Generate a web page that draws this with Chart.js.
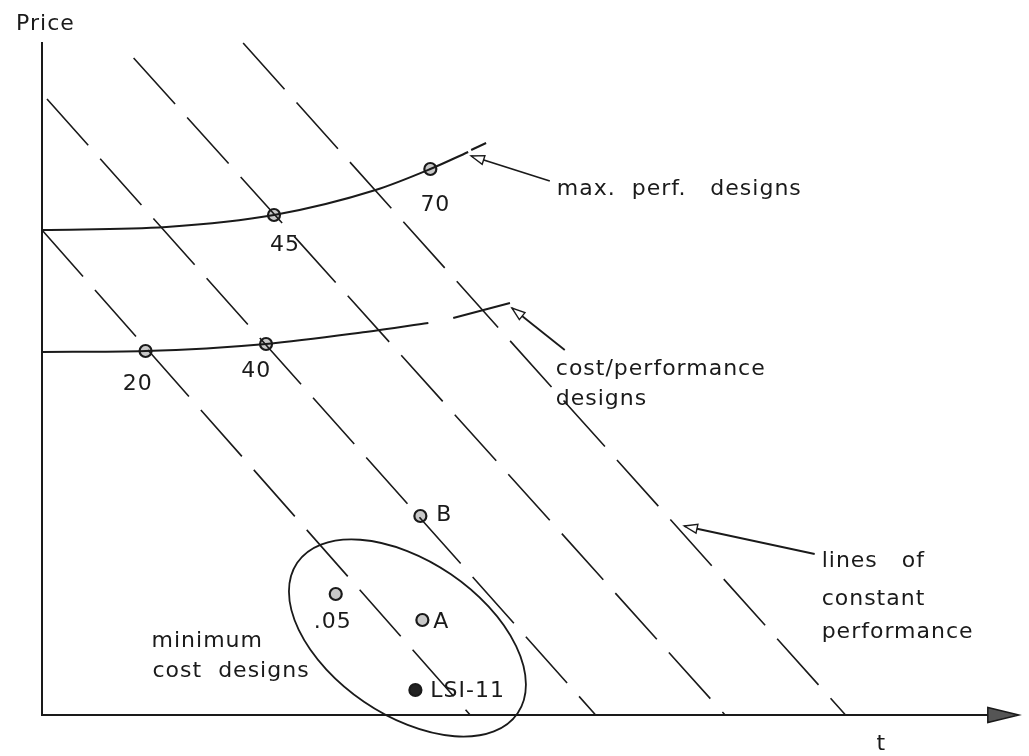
<!DOCTYPE html>
<html>
<head>
<meta charset="utf-8">
<script src="https://cdn.jsdelivr.net/npm/chart.js@4.4.1/dist/chart.umd.min.js"></script>
<style>
    html, body { margin: 0; padding: 0; background: #fff; }
    canvas { display: block; }
</style>
</head>
<body>
<canvas id="chart" width="1029" height="756"></canvas>
<script>
// lines of constant performance (t, price)
const constPerfA = [{ x: 0, y: 48.5 }, { x: 43.0, y: 0 }];
const constPerfB = [{ x: 0.5, y: 61.6 }, { x: 55.6, y: 0 }];
const constPerfC = [{ x: 9.2, y: 65.7 }, { x: 68.6, y: 0 }];
const constPerfD = [{ x: 20.2, y: 67.2 }, { x: 80.7, y: 0 }];

// max. perf. designs curve
const maxPerfCurve = [
    { x: 0, y: 48.5 }, { x: 12.5, y: 48.8 }, { x: 23.3, y: 50.0 },
    { x: 33.5, y: 52.5 }, { x: 39.0, y: 54.6 }, { x: 42.8, y: 56.3 },
];
const maxPerfTail = [{ x: 43.1, y: 56.5 }, { x: 44.6, y: 57.2 }];

// cost/performance designs curve
const costPerfCurve = [
    { x: 0, y: 36.3 }, { x: 10.4, y: 36.4 }, { x: 22.5, y: 37.1 },
    { x: 32.5, y: 38.3 }, { x: 38.8, y: 39.2 },
];
const costPerfTail = [{ x: 41.3, y: 39.7 }, { x: 47.0, y: 41.2 }];

// design points
const designNames = ['45', '70', '20', '40', 'B', '.05', 'A', 'LSI-11'];
const designT = [23.3, 39.0, 10.4, 22.5, 38.0, 29.5, 38.2, 37.5];
const designPrice = [50.0, 54.6, 36.4, 37.1, 19.9, 12.1, 9.5, 2.5];

// minimum cost designs region
const minCostCenter = { x: 36.7, y: 7.7 };
const minCostRadii = { a: 13.4, b: 7.75 };
const minCostTilt = 34.3;

const axisTMax = 98.1;
const axisPriceMax = 67.3;

// label text, anchored at left baseline in data units
const labels = [
    { text: 'Price', x: -2.6, y: 68.5 },
    { text: '70', x: 38.0, y: 50.4 },
    { text: '45', x: 22.9, y: 46.4 },
    { text: '20', x: 8.1, y: 32.5 },
    { text: '40', x: 20.0, y: 33.8 },
    { text: 'B', x: 39.6, y: 19.4 },
    { text: '.05', x: 27.3, y: 8.7 },
    { text: 'A', x: 39.3, y: 8.7 },
    { text: 'LSI-11', x: 39.0, y: 1.8 },
    { text: 'max.  perf.   designs', x: 51.7, y: 52.0 },
    { text: 'cost/performance', x: 51.6, y: 34.0 },
    { text: 'designs', x: 51.6, y: 31.0 },
    { text: 'lines   of', x: 78.3, y: 14.8 },
    { text: 'constant', x: 78.3, y: 11.0 },
    { text: 'performance', x: 78.3, y: 7.7 },
    { text: 'minimum', x: 11.0, y: 6.8 },
    { text: 'cost  designs', x: 11.1, y: 3.8 },
    { text: 't', x: 83.8, y: -3.5 },
];

// pointer arrows: tail -> tip
const arrows = [
    { from: { x: 51.0, y: 53.4 }, to: { x: 43.1, y: 55.9 } },
    { from: { x: 52.5, y: 36.5 }, to: { x: 47.2, y: 40.7 } },
    { from: { x: 77.6, y: 16.1 }, to: { x: 64.5, y: 18.9 } },
];

const ink = '#1a1a1a';
const dashPattern = [62, 18];

function dashedSeries(points) {
    return {
        data: points,
        showLine: true,
        borderColor: ink,
        borderWidth: 1.6,
        borderDash: dashPattern,
        pointRadius: 0,
        clip: false,
    };
}

function curveSeries(points) {
    return {
        data: points,
        showLine: true,
        borderColor: ink,
        borderWidth: 2,
        tension: 0.4,
        cubicInterpolationMode: 'monotone',
        pointRadius: 0,
        clip: false,
    };
}

function drawArrowHead(ctx, x1, y1, x2, y2, len, half, fill) {
    const ang = Math.atan2(y2 - y1, x2 - x1);
    const bx = x2 - len * Math.cos(ang);
    const by = y2 - len * Math.sin(ang);
    ctx.beginPath();
    ctx.moveTo(x2, y2);
    ctx.lineTo(bx + half * Math.sin(ang), by - half * Math.cos(ang));
    ctx.lineTo(bx - half * Math.sin(ang), by + half * Math.cos(ang));
    ctx.closePath();
    ctx.fillStyle = fill;
    ctx.fill();
    ctx.stroke();
}

const annotations = {
    id: 'annotations',
    afterDatasetsDraw(chart) {
        const ctx = chart.ctx;
        const xs = chart.scales.x;
        const ys = chart.scales.y;
        ctx.save();
        ctx.strokeStyle = ink;

        // x axis arrow head
        ctx.lineWidth = 1.5;
        const ax0 = xs.getPixelForValue(axisTMax);
        const ay0 = ys.getPixelForValue(0);
        drawArrowHead(ctx, ax0 - 40, ay0, ax0, ay0, 31, 7.5, '#555');

        // ellipse round the minimum cost designs
        const cx = xs.getPixelForValue(minCostCenter.x);
        const cy = ys.getPixelForValue(minCostCenter.y);
        const rx = xs.getPixelForValue(minCostCenter.x + minCostRadii.a) - cx;
        const ry = xs.getPixelForValue(minCostCenter.x + minCostRadii.b) - cx;
        ctx.lineWidth = 1.8;
        ctx.beginPath();
        ctx.ellipse(cx, cy, rx, ry, minCostTilt * Math.PI / 180, 0, Math.PI * 2);
        ctx.stroke();

        // pointer arrows
        arrows.forEach((a) => {
            const x1 = xs.getPixelForValue(a.from.x);
            const y1 = ys.getPixelForValue(a.from.y);
            const x2 = xs.getPixelForValue(a.to.x);
            const y2 = ys.getPixelForValue(a.to.y);
            ctx.lineWidth = 1.8;
            ctx.beginPath();
            ctx.moveTo(x1, y1);
            ctx.lineTo(x2, y2);
            ctx.stroke();
            ctx.lineWidth = 1.4;
            drawArrowHead(ctx, x1, y1, x2, y2, 13, 4.5, '#fff');
        });

        // text
        ctx.fillStyle = ink;
        ctx.font = '22px "DejaVu Sans"';
        ctx.letterSpacing = '1px';
        ctx.textBaseline = 'alphabetic';
        labels.forEach((l) => {
            ctx.fillText(l.text, xs.getPixelForValue(l.x), ys.getPixelForValue(l.y));
        });
        ctx.restore();
    },
};

document.addEventListener('DOMContentLoaded', () => {
    const designPoints = designT.map((t, i) => ({ x: t, y: designPrice[i] }));
    const pointFills = designNames.map((n) => (n === 'LSI-11' ? '#222' : '#c8c8c8'));

    new Chart(document.getElementById('chart'), {
        type: 'scatter',
        data: {
            datasets: [
                dashedSeries(constPerfA),
                dashedSeries(constPerfB),
                dashedSeries(constPerfC),
                dashedSeries(constPerfD),
                curveSeries(maxPerfCurve),
                curveSeries(maxPerfTail),
                curveSeries(costPerfCurve),
                curveSeries(costPerfTail),
                {
                    // axes
                    data: [{ x: 0, y: axisPriceMax }, { x: 0, y: 0 }, { x: axisTMax - 2, y: 0 }],
                    showLine: true,
                    borderColor: ink,
                    borderWidth: 2,
                    pointRadius: 0,
                    clip: false,
                },
                {
                    data: designPoints,
                    pointStyle: 'circle',
                    pointRadius: 6,
                    pointBorderWidth: 2.2,
                    pointBorderColor: ink,
                    pointBackgroundColor: pointFills,
                    clip: false,
                },
            ],
        },
        options: {
            responsive: false,
            animation: false,
            layout: { padding: { left: 42, right: 4, top: 42, bottom: 41 } },
            scales: {
                x: { type: 'linear', display: false, min: 0, max: 98.3 },
                y: { type: 'linear', display: false, min: 0, max: 67.3 },
            },
            plugins: {
                legend: { display: false },
                tooltip: { enabled: false },
            },
        },
        plugins: [annotations],
    });
});
</script>
</body>
</html>
